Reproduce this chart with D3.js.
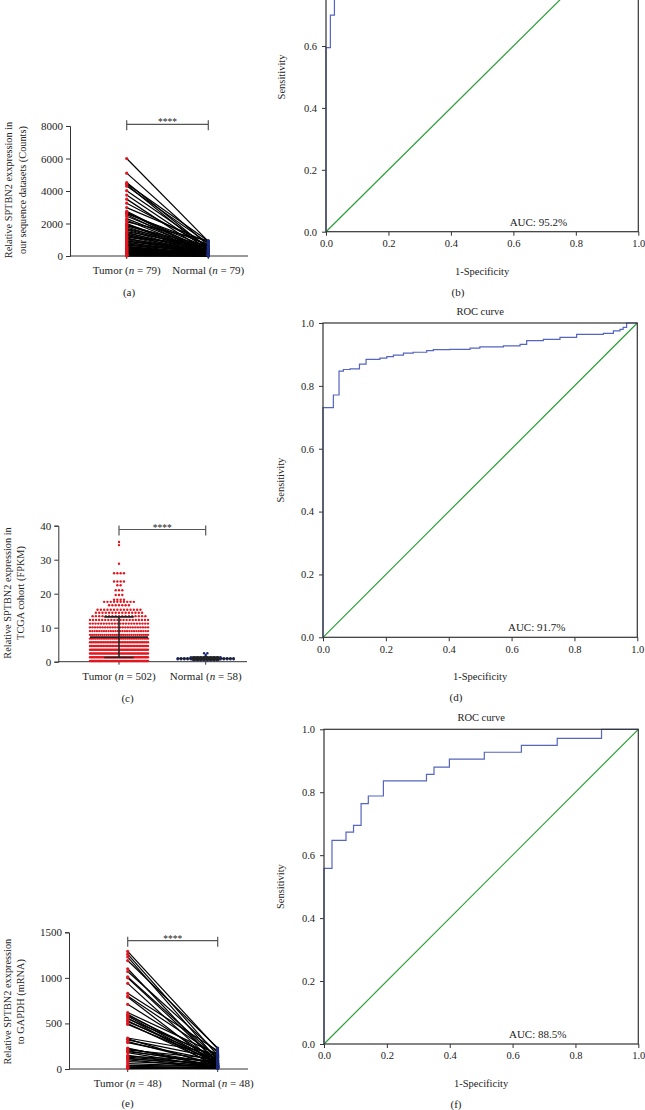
<!DOCTYPE html>
<html><head><meta charset="utf-8">
<script src="https://cdn.jsdelivr.net/npm/d3@7"></script>
<style>
body{margin:0;background:#fff}
svg{display:block}
text{font-family:"Liberation Serif","Times New Roman",serif;fill:#222}
</style>
</head><body>
<svg id="chart" width="645" height="1110"></svg>
<script>
// ---------------- DATA ----------------
const groupNames = ["Tumor", "Normal"];

// (a) our sequence datasets (Counts), paired
const seqN = [79, 79];
const seqTumor = [6000,5100,4520,4450,4380,4300,4020,3750,3500,3250,2980,2750,2700,2650,2600,2550,2450,2300,2200,2100,
  2000,1950,1900,1850,1800,1700,1650,1600,1500,1450,1400,1350,1300,1250,1200,1150,1100,1050,1000,950,
  900,850,800,750,700,650,600,580,550,520,500,470,450,420,400,380,350,320,300,280,
  250,230,200,180,160,140,120,100,90,80,70,60,50,40,30,25,20,15,10];
const seqNormal = [900,650,450,920,300,780,550,380,200,600,850,250,150,500,700,100,420,300,180,950,
  80,350,220,600,120,450,260,90,540,170,320,60,400,240,130,700,50,280,190,110,
  380,70,220,160,40,300,90,140,60,200,30,110,80,250,50,150,40,90,70,30,
  120,20,60,100,25,45,80,15,35,20,60,10,30,15,25,10,20,5,8];
const seqTicks = [0, 2000, 4000, 6000, 8000];

// (c) TCGA cohort (FPKM): rows of the dot plot (value, number of dots)
const tcgaN = [502, 58];
const tcgaTumorRowValues = [0.2,1.3,2.4,3.5,4.6,5.7,6.8,7.9,9.0,10.1,11.2,12.3,13.4,14.4,15.3,16.6,17.6,18.2,19.6,21.0,22.5,23.6,26.0,28.8,34.3,35.2];
const tcgaTumorRowCounts = [50,48,46,44,40,35,32,29,26,24,22,20,17,15,14,7,10,4,3,3,2,4,4,1,1,1];
const tcgaNormalRowValues = [0.4,0.7,1.0,1.3,1.6,2.0,2.5];
const tcgaNormalRowCounts = [8,18,18,10,1,1,2];
const tcgaTicks = [0, 10, 20, 30, 40];

// (e) qPCR relative to GAPDH (mRNA), paired
const qpcrN = [48, 48];
const qpcrTumor = [1290,1260,1230,1190,1100,1070,1010,1000,940,830,800,790,710,620,600,590,580,560,550,530,
  520,500,490,340,330,320,300,290,230,220,210,200,190,180,150,140,130,120,110,100,80,60,40,30,20,15,10,5];
const qpcrNormal = [220,150,100,230,60,180,120,80,40,200,140,30,90,160,70,110,50,20,130,60,
  100,40,80,170,30,120,50,90,20,60,110,40,70,15,30,90,50,20,60,10,40,25,30,15,20,10,5,8];
const qpcrTicks = [0, 500, 1000, 1500];

// ROC curves (1-specificity, sensitivity)
const rocBFpr = [0,0,0.014,0.027,0.04,0.06,0.1,0.2,0.4,0.7,1];
const rocBTpr = [0,0.595,0.70,0.80,0.87,0.90,0.93,0.95,0.97,0.99,1];
const rocBAuc = "AUC: 95.2%";
const rocDFpr = [0,0,0.033,0.051,0.065,0.086,0.116,0.137,0.181,0.203,0.224,0.256,0.287,0.33,0.351,0.404,0.468,0.499,0.574,0.627,0.648,0.701,0.754,0.807,0.892,0.924,0.945,0.955,0.966,1];
const rocDTpr = [0,0.731,0.771,0.847,0.852,0.854,0.869,0.884,0.888,0.893,0.898,0.904,0.907,0.912,0.915,0.916,0.92,0.924,0.927,0.932,0.944,0.948,0.954,0.964,0.967,0.975,0.98,0.986,1.0,1];
const rocDAuc = "AUC: 91.7%";
const rocFFpr = [0,0,0.0254,0.070,0.094,0.118,0.141,0.189,0.326,0.350,0.399,0.510,0.628,0.742,0.883,1];
const rocFTpr = [0,0.558,0.647,0.673,0.695,0.764,0.788,0.836,0.857,0.880,0.905,0.927,0.949,0.971,1.0,1];
const rocFAuc = "AUC: 88.5%";
const rocTicks = [0, 0.2, 0.4, 0.6, 0.8, 1.0];

// ---------------- DRAWING ----------------
const svg = d3.select("#chart");
const RED = "#e3161f", NAVY = "#1c2a78", AXIS = "#333";
const FONT = '"Liberation Serif","Times New Roman",serif';

function catLabel(g, x, y, name, n, fs) {
  const t = g.append("text").attr("x", x).attr("y", y).attr("text-anchor", "middle").attr("font-size", fs);
  t.append("tspan").text(name + " (");
  t.append("tspan").attr("font-style", "italic").text("n");
  t.append("tspan").text(" = " + n + ")");
}

function yTitle(g, lines, xs, cy, fs) {
  lines.forEach((l, i) => {
    g.append("text").attr("transform", `translate(${xs[i]},${cy}) rotate(-90)`)
      .attr("text-anchor", "middle").attr("dominant-baseline", "central")
      .attr("font-size", fs).text(l);
  });
}

function leftFrame(cfg) {
  const g = svg.append("g");
  const y = d3.scaleLinear().domain([0, cfg.max]).range([cfg.y0, cfg.yTop]);
  const x = d3.scalePoint().domain(groupNames).range([cfg.xT, cfg.xN]);
  const ax = g.append("g").attr("transform", `translate(${cfg.ax},0)`)
    .call(d3.axisLeft(y).tickValues(cfg.ticks).tickSize(4).tickPadding(3).tickFormat(d3.format("d")));
  ax.selectAll("text").attr("font-size", 11).style("font-family", FONT).attr("fill", "#222");
  ax.selectAll("line,path").attr("stroke", AXIS);
  g.append("line").attr("x1", cfg.ax).attr("x2", cfg.xEnd).attr("y1", cfg.y0).attr("y2", cfg.y0).attr("stroke", AXIS);
  groupNames.forEach(c => g.append("line").attr("x1", x(c)).attr("x2", x(c)).attr("y1", cfg.y0).attr("y2", cfg.y0 + 3).attr("stroke", AXIS));
  groupNames.forEach((c, i) => catLabel(g, x(c), cfg.labY, c, cfg.n[i], 11));
  const by = cfg.by;
  g.append("path").attr("d", `M${x("Tumor")},${by - 4}V${by + 6}M${x("Tumor")},${by}H${x("Normal")}M${x("Normal")},${by - 4}V${by + 6}`)
    .attr("stroke", "#555").attr("fill", "none").attr("stroke-width", 1.2);
  g.append("text").attr("x", (x("Tumor") + x("Normal")) / 2).attr("y", by + 1).attr("text-anchor", "middle")
    .attr("font-size", 9.5).attr("fill", "#666").text("****");
  yTitle(g, cfg.title, cfg.titleX, cfg.titleY, 10.3);
  g.append("text").attr("x", cfg.panelX).attr("y", cfg.panelY).attr("text-anchor", "middle").attr("font-size", 11).text(cfg.panel);
  return {g, x, y};
}

function pairedPanel(cfg, tumor, normal) {
  const {g, x, y} = leftFrame(cfg);
  const pairs = tumor.map((t, i) => ({t, n: normal[i]}));
  g.append("g").selectAll("line").data(pairs).join("line")
    .attr("x1", x("Tumor")).attr("x2", x("Normal"))
    .attr("y1", d => y(d.t)).attr("y2", d => y(d.n))
    .attr("stroke", "#000").attr("stroke-width", 1.2);
  g.append("g").selectAll("circle").data(tumor).join("circle")
    .attr("cx", x("Tumor")).attr("cy", d => y(d)).attr("r", 1.6).attr("fill", RED);
  g.append("g").selectAll("circle").data(normal).join("circle")
    .attr("cx", x("Normal")).attr("cy", d => y(d)).attr("r", 1.5).attr("fill", NAVY);
}

function dotRows(values, counts, width) {
  const pts = [];
  values.forEach((v, r) => {
    const n = counts[r];
    const sp = n > 1 ? Math.min(3.3, width / (n - 1)) : 0;
    for (let i = 0; i < n; i++) pts.push({v, dx: (i - (n - 1) / 2) * sp});
  });
  return pts;
}

function scatterPanel(cfg) {
  const {g, x, y} = leftFrame(cfg);
  const groups = [
    {name: "Tumor", pts: dotRows(tcgaTumorRowValues, tcgaTumorRowCounts, 58), color: RED, meanW: 29, capW: 14.7},
    {name: "Normal", pts: dotRows(tcgaNormalRowValues, tcgaNormalRowCounts, 56), color: NAVY, meanW: 28, capW: 14}
  ];
  groups.forEach(gr => {
    g.append("g").selectAll("circle").data(gr.pts).join("circle")
      .attr("cx", d => x(gr.name) + d.dx).attr("cy", d => y(d.v)).attr("r", 1.2).attr("fill", gr.color);
  });
  groups.forEach(gr => {
    const vals = gr.pts.map(d => d.v);
    const m = d3.mean(vals), sd = d3.deviation(vals);
    const cx = x(gr.name);
    const lo = Math.max(0, m - sd), hi = m + sd;
    g.append("path").attr("d",
      `M${cx - gr.meanW},${y(m)}H${cx + gr.meanW}M${cx},${y(lo)}V${y(hi)}M${cx - gr.capW},${y(hi)}H${cx + gr.capW}M${cx - gr.capW},${y(lo)}H${cx + gr.capW}`)
      .attr("stroke", "#222").attr("stroke-width", 1.6).attr("fill", "none");
  });
}

function rocPanel(cfg) {
  const g = svg.append("g");
  const x = d3.scaleLinear().domain([0, 1]).range([cfg.x0, cfg.x1]);
  const y = d3.scaleLinear().domain([0, 1]).range([cfg.y0, cfg.y1]);
  const visibleY = rocTicks.filter(t => y(t) > 8);
  const xa = g.append("g").attr("transform", `translate(0,${cfg.y0})`)
    .call(d3.axisBottom(x).tickValues(rocTicks).tickSize(4).tickPadding(4).tickFormat(d3.format(".1f")));
  const ya = g.append("g").attr("transform", `translate(${cfg.x0},0)`)
    .call(d3.axisLeft(y).tickValues(visibleY).tickSize(4).tickPadding(5).tickFormat(d3.format(".1f")));
  [xa, ya].forEach(a => {
    a.select(".domain").remove();
    a.selectAll("line").attr("stroke", AXIS);
    a.selectAll("text").attr("font-size", 10.5).style("font-family", FONT).attr("fill", "#222");
  });
  g.append("line").attr("x1", x(0)).attr("y1", y(0)).attr("x2", x(1)).attr("y2", y(1))
    .attr("stroke", "#2f9e3a").attr("stroke-width", 1.2);
  const pts = cfg.fpr.map((f, i) => [f, cfg.tpr[i]]);
  g.append("path").datum(pts)
    .attr("d", d3.line().x(d => x(d[0])).y(d => y(d[1])).curve(d3.curveStepAfter))
    .attr("stroke", "#5565c0").attr("stroke-width", 1.2).attr("fill", "none");
  g.append("rect").attr("x", cfg.x0).attr("y", cfg.y1).attr("width", cfg.x1 - cfg.x0).attr("height", cfg.y0 - cfg.y1)
    .attr("fill", "none").attr("stroke", AXIS).attr("stroke-width", 1.2);
  g.append("text").attr("x", x(0.68)).attr("y", y(0) - 6).attr("text-anchor", "middle").attr("font-size", 11).text(cfg.auc);
  if (cfg.y1 - 8 > 10) {
    g.append("text").attr("x", (cfg.x0 + cfg.x1) / 2).attr("y", cfg.y1 - 8).attr("text-anchor", "middle").attr("font-size", 10.5).text("ROC curve");
  }
  g.append("text").attr("transform", `translate(${cfg.sensX},${(cfg.y0 + cfg.y1) / 2}) rotate(-90)`)
    .attr("text-anchor", "middle").attr("dominant-baseline", "central").attr("font-size", 10.5).text("Sensitivity");
  g.append("text").attr("x", (cfg.x0 + cfg.x1) / 2).attr("y", cfg.y0 + 43).attr("text-anchor", "middle").attr("font-size", 10.5).text("1-Specificity");
  g.append("text").attr("x", cfg.panelX).attr("y", cfg.y0 + 64).attr("text-anchor", "middle").attr("font-size", 11).text(cfg.panel);
}

// (a)
pairedPanel({max: 8000, y0: 256, yTop: 126, ax: 70, xEnd: 248, xT: 126.7, xN: 208.3, ticks: seqTicks, n: seqN,
  labY: 274, by: 124.3, title: ["Relative SPTBN2 exxpression in", "our sequence datasets (Counts)"],
  titleX: [8, 22], titleY: 190, panel: "(a)", panelX: 129, panelY: 295.5}, seqTumor, seqNormal);
// (c)
scatterPanel({max: 40, y0: 661.7, yTop: 525.7, ax: 58.3, xEnd: 247, xT: 119, xN: 205.7, ticks: tcgaTicks, n: tcgaN,
  labY: 680, by: 529.5, title: ["Relative SPTBN2 expression in", "TCGA cohort (FPKM)"],
  titleX: [7.3, 20.7], titleY: 593, panel: "(c)", panelX: 127.5, panelY: 701.5});
// (e)
pairedPanel({max: 1500, y0: 1069, yTop: 932.3, ax: 69, xEnd: 248, xT: 127.7, xN: 217.7, ticks: qpcrTicks, n: qpcrN,
  labY: 1087, by: 940.7, title: ["Relative SPTBN2 exxpression", "to GAPDH (mRNA)"],
  titleX: [7.3, 20], titleY: 1001.7, panel: "(e)", panelX: 127.5, panelY: 1106.5}, qpcrTumor, qpcrNormal);

// ROC (b), (d), (f)
rocPanel({x0: 326, x1: 638.3, y0: 231.7, y1: -77.8, fpr: rocBFpr, tpr: rocBTpr, auc: rocBAuc, sensX: 281.7, panel: "(b)", panelX: 458});
rocPanel({x0: 323, x1: 637.3, y0: 637.3, y1: 323, fpr: rocDFpr, tpr: rocDTpr, auc: rocDAuc, sensX: 280, panel: "(d)", panelX: 456});
rocPanel({x0: 324, x1: 638.3, y0: 1044, y1: 729.3, fpr: rocFFpr, tpr: rocFTpr, auc: rocFAuc, sensX: 280, panel: "(f)", panelX: 456});
</script>
</body></html>
